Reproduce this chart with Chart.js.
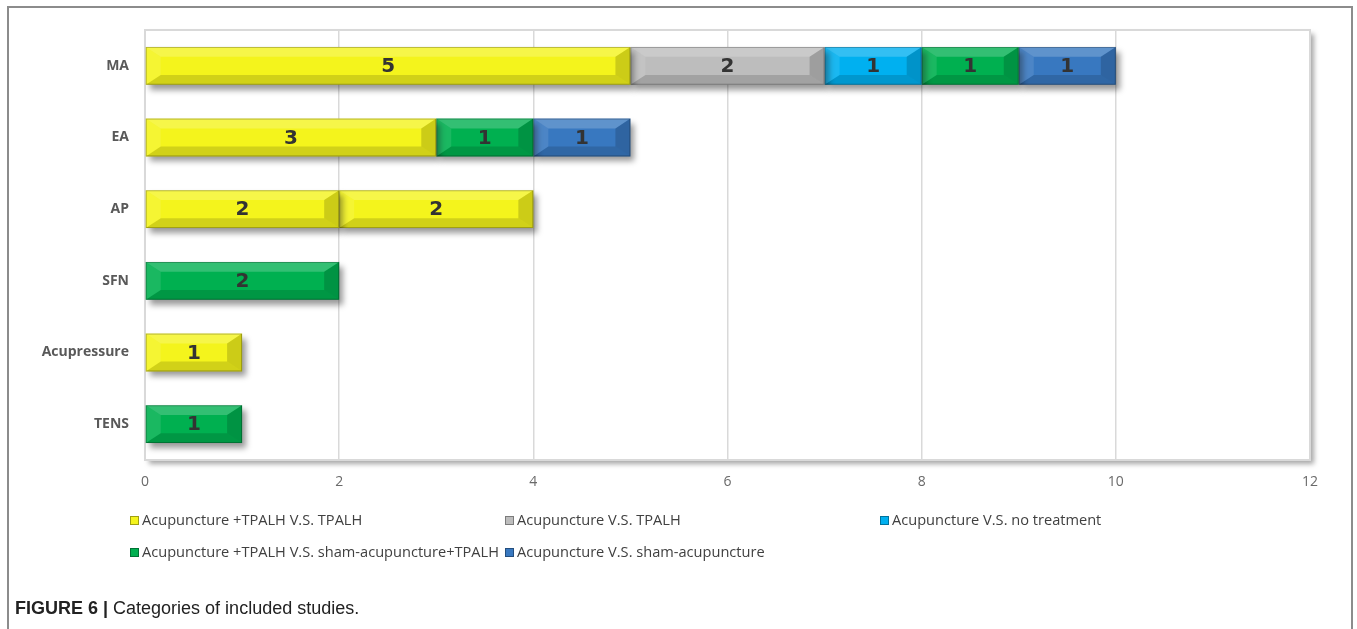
<!DOCTYPE html>
<html>
<head>
<meta charset="utf-8">
<script src="https://cdn.jsdelivr.net/npm/chart.js@4.4.1/dist/chart.umd.min.js"></script>
<style>
  html, body { margin: 0; padding: 0; background: #fff; }
  body { width: 1357px; height: 629px; position: relative; overflow: hidden; }
  #frame { position: absolute; left: 7px; top: 6px; width: 1346px; height: 640px; border: 2px solid #8c8c8c; box-sizing: border-box; }
  #c { position: absolute; left: 0; top: 0; }
  .leg { position: absolute; font-family: "Open Sans", sans-serif; font-size: 14.6px; color: #404040; white-space: nowrap; line-height: 18px; }
  .leg i { display: inline-block; width: 9px; height: 9px; margin-right: 3px; vertical-align: 0px; box-sizing: border-box; }
  #cap { position: absolute; left: 15px; top: 598px; font-family: "Liberation Sans", Arial, sans-serif; font-size: 18px; color: #222; white-space: nowrap; }
  #cap b { font-weight: bold; }
</style>
</head>
<body>
<div id="frame"></div>
<canvas id="c" width="1357" height="629"></canvas>
<div id="legend"></div>
<div id="cap"><b>FIGURE 6 |</b> Categories of included studies.</div>
<script>
// ---- data ----
const categories = ['MA', 'EA', 'AP', 'SFN', 'Acupressure', 'TENS'];
const seriesNames = [
  'Acupuncture +TPALH V.S. TPALH',
  'Acupuncture V.S. TPALH',
  'Acupuncture V.S. no treatment',
  'Acupuncture +TPALH V.S. sham-acupuncture+TPALH',
  'Acupuncture V.S. sham-acupuncture'
];
const acuTpalhVsTpalh      = [5, 3, 2, null, 1, null];
const acuTpalhVsTpalh2     = [null, null, 2, null, null, null]; // second yellow segment on AP
const acuVsTpalh           = [2, null, null, null, null, null];
const acuVsNoTreatment     = [1, null, null, null, null, null];
const acuTpalhVsShamTpalh  = [1, 1, null, 2, null, 1];
const acuVsSham            = [1, 1, null, null, null, null];
const xTicks = [0, 2, 4, 6, 8, 10, 12];

const colors = ['#F4F41C', '#BDBDBD', '#00B0F0', '#00B050', '#3878C0'];

const datasets = [
  { label: seriesNames[0], data: acuTpalhVsTpalh, backgroundColor: colors[0] },
  { label: seriesNames[0], data: acuTpalhVsTpalh2, backgroundColor: colors[0] },
  { label: seriesNames[1], data: acuVsTpalh, backgroundColor: colors[1] },
  { label: seriesNames[2], data: acuVsNoTreatment, backgroundColor: colors[2] },
  { label: seriesNames[3], data: acuTpalhVsShamTpalh, backgroundColor: colors[3] },
  { label: seriesNames[4], data: acuVsSham, backgroundColor: colors[4] }
];

// ---- plugins ----
const plotBox = {
  id: 'plotBox',
  beforeDraw(chart) {
    const { ctx, chartArea: a } = chart;
    ctx.save();
    ctx.shadowColor = 'rgba(0,0,0,0.35)';
    ctx.shadowBlur = 5;
    ctx.shadowOffsetX = 4;
    ctx.shadowOffsetY = 4;
    ctx.fillStyle = '#fff';
    ctx.fillRect(a.left, a.top, a.right - a.left, a.bottom - a.top);
    ctx.restore();
  },
  beforeDatasetsDraw(chart) {
    const { ctx, chartArea: a } = chart;
    ctx.save();
    ctx.strokeStyle = '#D9D9D9';
    ctx.lineWidth = 2;
    ctx.strokeRect(a.left, a.top, a.right - a.left, a.bottom - a.top);
    ctx.restore();
    ctx.save();
    ctx.shadowColor = 'rgba(0,0,0,0.4)';
    ctx.shadowBlur = 6;
    ctx.shadowOffsetX = 4;
    ctx.shadowOffsetY = 5;
  },
  afterDatasetsDraw(chart) {
    const ctx = chart.ctx;
    ctx.restore();
    chart.data.datasets.forEach((ds, di) => {
      const meta = chart.getDatasetMeta(di);
      meta.data.forEach((el, i) => {
        const v = ds.data[i];
        if (v === null || v === undefined || v === 0) return;
        const p = el.getProps(['x', 'y', 'base', 'height'], true);
        const x0 = Math.min(p.base, p.x), x1 = Math.max(p.base, p.x);
        const y0 = p.y - p.height / 2, y1 = p.y + p.height / 2;
        const bw = Math.min(15, (x1 - x0) / 4), bh = p.height * 0.26;
        ctx.save();
        ctx.fillStyle = 'rgba(255,255,255,0.2)';
        ctx.beginPath(); ctx.moveTo(x0, y0); ctx.lineTo(x1, y0); ctx.lineTo(x1 - bw, y0 + bh); ctx.lineTo(x0 + bw, y0 + bh); ctx.closePath(); ctx.fill();
        ctx.fillStyle = 'rgba(0,0,0,0.14)';
        ctx.beginPath(); ctx.moveTo(x0, y1); ctx.lineTo(x1, y1); ctx.lineTo(x1 - bw, y1 - bh); ctx.lineTo(x0 + bw, y1 - bh); ctx.closePath(); ctx.fill();
        ctx.fillStyle = 'rgba(255,255,255,0.1)';
        ctx.beginPath(); ctx.moveTo(x0, y0); ctx.lineTo(x0 + bw, y0 + bh); ctx.lineTo(x0 + bw, y1 - bh); ctx.lineTo(x0, y1); ctx.closePath(); ctx.fill();
        ctx.fillStyle = 'rgba(0,0,0,0.16)';
        ctx.beginPath(); ctx.moveTo(x1, y0); ctx.lineTo(x1 - bw, y0 + bh); ctx.lineTo(x1 - bw, y1 - bh); ctx.lineTo(x1, y1); ctx.closePath(); ctx.fill();
        ctx.strokeStyle = 'rgba(0,0,0,0.25)';
        ctx.lineWidth = 1;
        ctx.strokeRect(x0 + 0.5, y0 + 0.5, x1 - x0 - 1, y1 - y0 - 1);
        ctx.fillStyle = '#333';
        ctx.font = 'bold 20px "DejaVu Sans", sans-serif';
        ctx.textAlign = 'center';
        ctx.textBaseline = 'middle';
        ctx.fillText(String(v), (x0 + x1) / 2, p.y + 1);
        ctx.restore();
      });
    });
  }
};

new Chart(document.getElementById('c'), {
  type: 'bar',
  data: { labels: categories, datasets },
  options: {
    indexAxis: 'y',
    responsive: false,
    animation: false,
    devicePixelRatio: 1,
    layout: { padding: { left: 20, right: 47, top: 30, bottom: 129 } },
    datasets: { bar: { categoryPercentage: 0.8, barPercentage: 0.66, borderWidth: 0, skipNull: true } },
    plugins: { legend: { display: false }, tooltip: { enabled: false } },
    scales: {
      x: {
        stacked: true,
        min: 0, max: 12,
        afterBuildTicks(scale) { scale.ticks = xTicks.map(v => ({ value: v })); },
        afterFit(scale) { scale.height = 40; },
        grid: { color: '#D9D9D9', lineWidth: 1.5, drawTicks: false },
        border: { display: false },
        ticks: { padding: 14, color: '#6a6a6a', font: { family: '"Open Sans", sans-serif', size: 14 } }
      },
      y: {
        stacked: true,
        afterFit(scale) { scale.width = 125; },
        grid: { display: false, drawTicks: false },
        border: { display: false },
        ticks: { padding: 16, color: '#595959', font: { family: '"Open Sans", sans-serif', size: 14, weight: 'bold' } }
      }
    }
  },
  plugins: [plotBox]
});

// ---- HTML legend (real text) ----
const legPos = [[130, 510], [505, 510], [880, 510], [130, 542], [505, 542]];
const legEl = document.getElementById('legend');
seriesNames.forEach((name, i) => {
  const d = document.createElement('div');
  d.className = 'leg';
  d.style.left = legPos[i][0] + 'px';
  d.style.top = legPos[i][1] + 'px';
  const m = document.createElement('i');
  m.style.background = colors[i];
  m.style.border = '1px solid rgba(0,0,0,0.35)';
  d.appendChild(m);
  d.appendChild(document.createTextNode(name));
  legEl.appendChild(d);
});
</script>
</body>
</html>
